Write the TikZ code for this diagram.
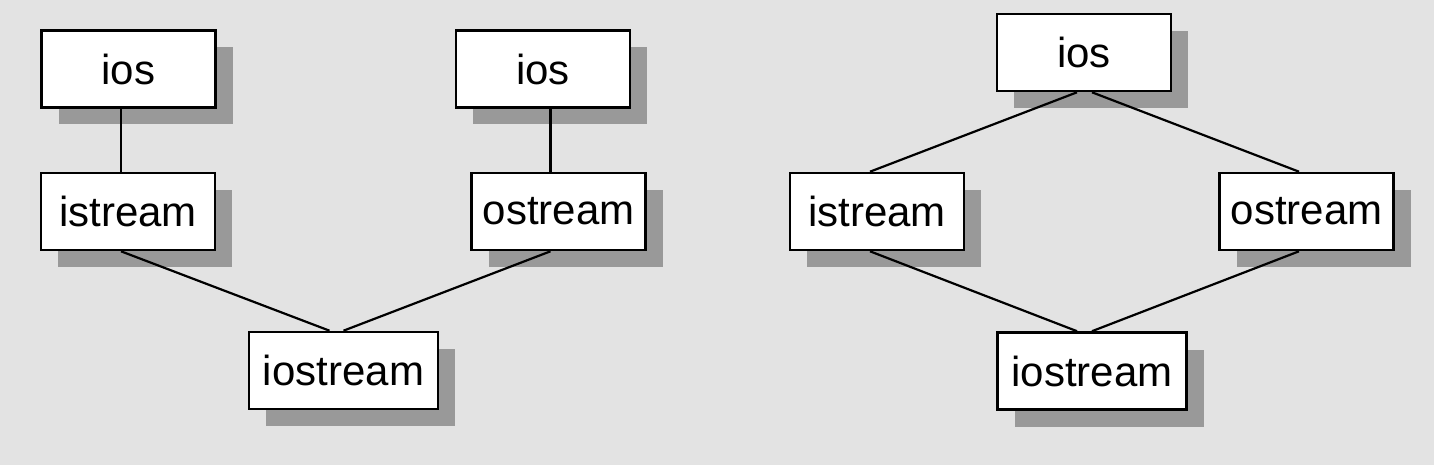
\documentclass[tikz,border=0pt]{standalone}
\usepackage{fontspec}
\setmainfont{Liberation Sans}
\usepackage{tikz}
\usetikzlibrary{shadows}
\definecolor{bggray}{HTML}{E3E3E3}
\definecolor{shadowgray}{HTML}{999999}
\tikzset{
    classbox/.style={draw, fill=white, line width=1.3pt, inner sep=0pt,
        minimum width=87pt, minimum height=38.5pt,
        font=\fontsize{21}{25}\selectfont,
        drop shadow={shadow xshift=8.5pt, shadow yshift=-8.5pt, fill=shadowgray, opacity=1}},
    widebox/.style={classbox, minimum width=94.5pt},
    link/.style={line width=1.1pt}
}
\begin{document}
\begin{tikzpicture}[x=0.5pt, y=-0.5pt]
    \fill[bggray] (0,0) rectangle (1434,465);
    \useasboundingbox (0,0) rectangle (1434,465);
    % two separate hierarchies
    \node[classbox] (iosA) at (128.5,69) {ios};
    \node[classbox] (iosB) at (543,69) {ios};
    \node[classbox] (istA) at (128,211.5) {istream};
    \node[classbox] (ostA) at (558.5,211.5) {ostream};
    \node[widebox] (iostA) at (343.5,370.5) {iostream};
    \draw[link] ([xshift=-3.75pt]iosA.south) -- ([xshift=-3.5pt]istA.north);
    \draw[link] ([xshift=3.75pt]iosB.south) -- ([xshift=-4pt]ostA.north);
    \draw[link] ([xshift=-3.5pt]istA.south) -- ([xshift=-7pt]iostA.north);
    \draw[link] ([xshift=-4pt]ostA.south) -- (iostA.north);
    % shared base class
    \node[classbox] (iosC) at (1084,52.5) {ios};
    \node[classbox] (istB) at (877,211.5) {istream};
    \node[classbox] (ostB) at (1306.5,211.5) {ostream};
    \node[widebox] (iostB) at (1092,371) {iostream};
    \draw[link] ([xshift=-3.5pt]iosC.south) -- ([xshift=-3.5pt]istB.north);
    \draw[link] ([xshift=4pt]iosC.south) -- ([xshift=-3.75pt]ostB.north);
    \draw[link] ([xshift=-3.5pt]istB.south) -- ([xshift=-7.5pt]iostB.north);
    \draw[link] ([xshift=-3.75pt]ostB.south) -- (iostB.north);
\end{tikzpicture}
\end{document}
